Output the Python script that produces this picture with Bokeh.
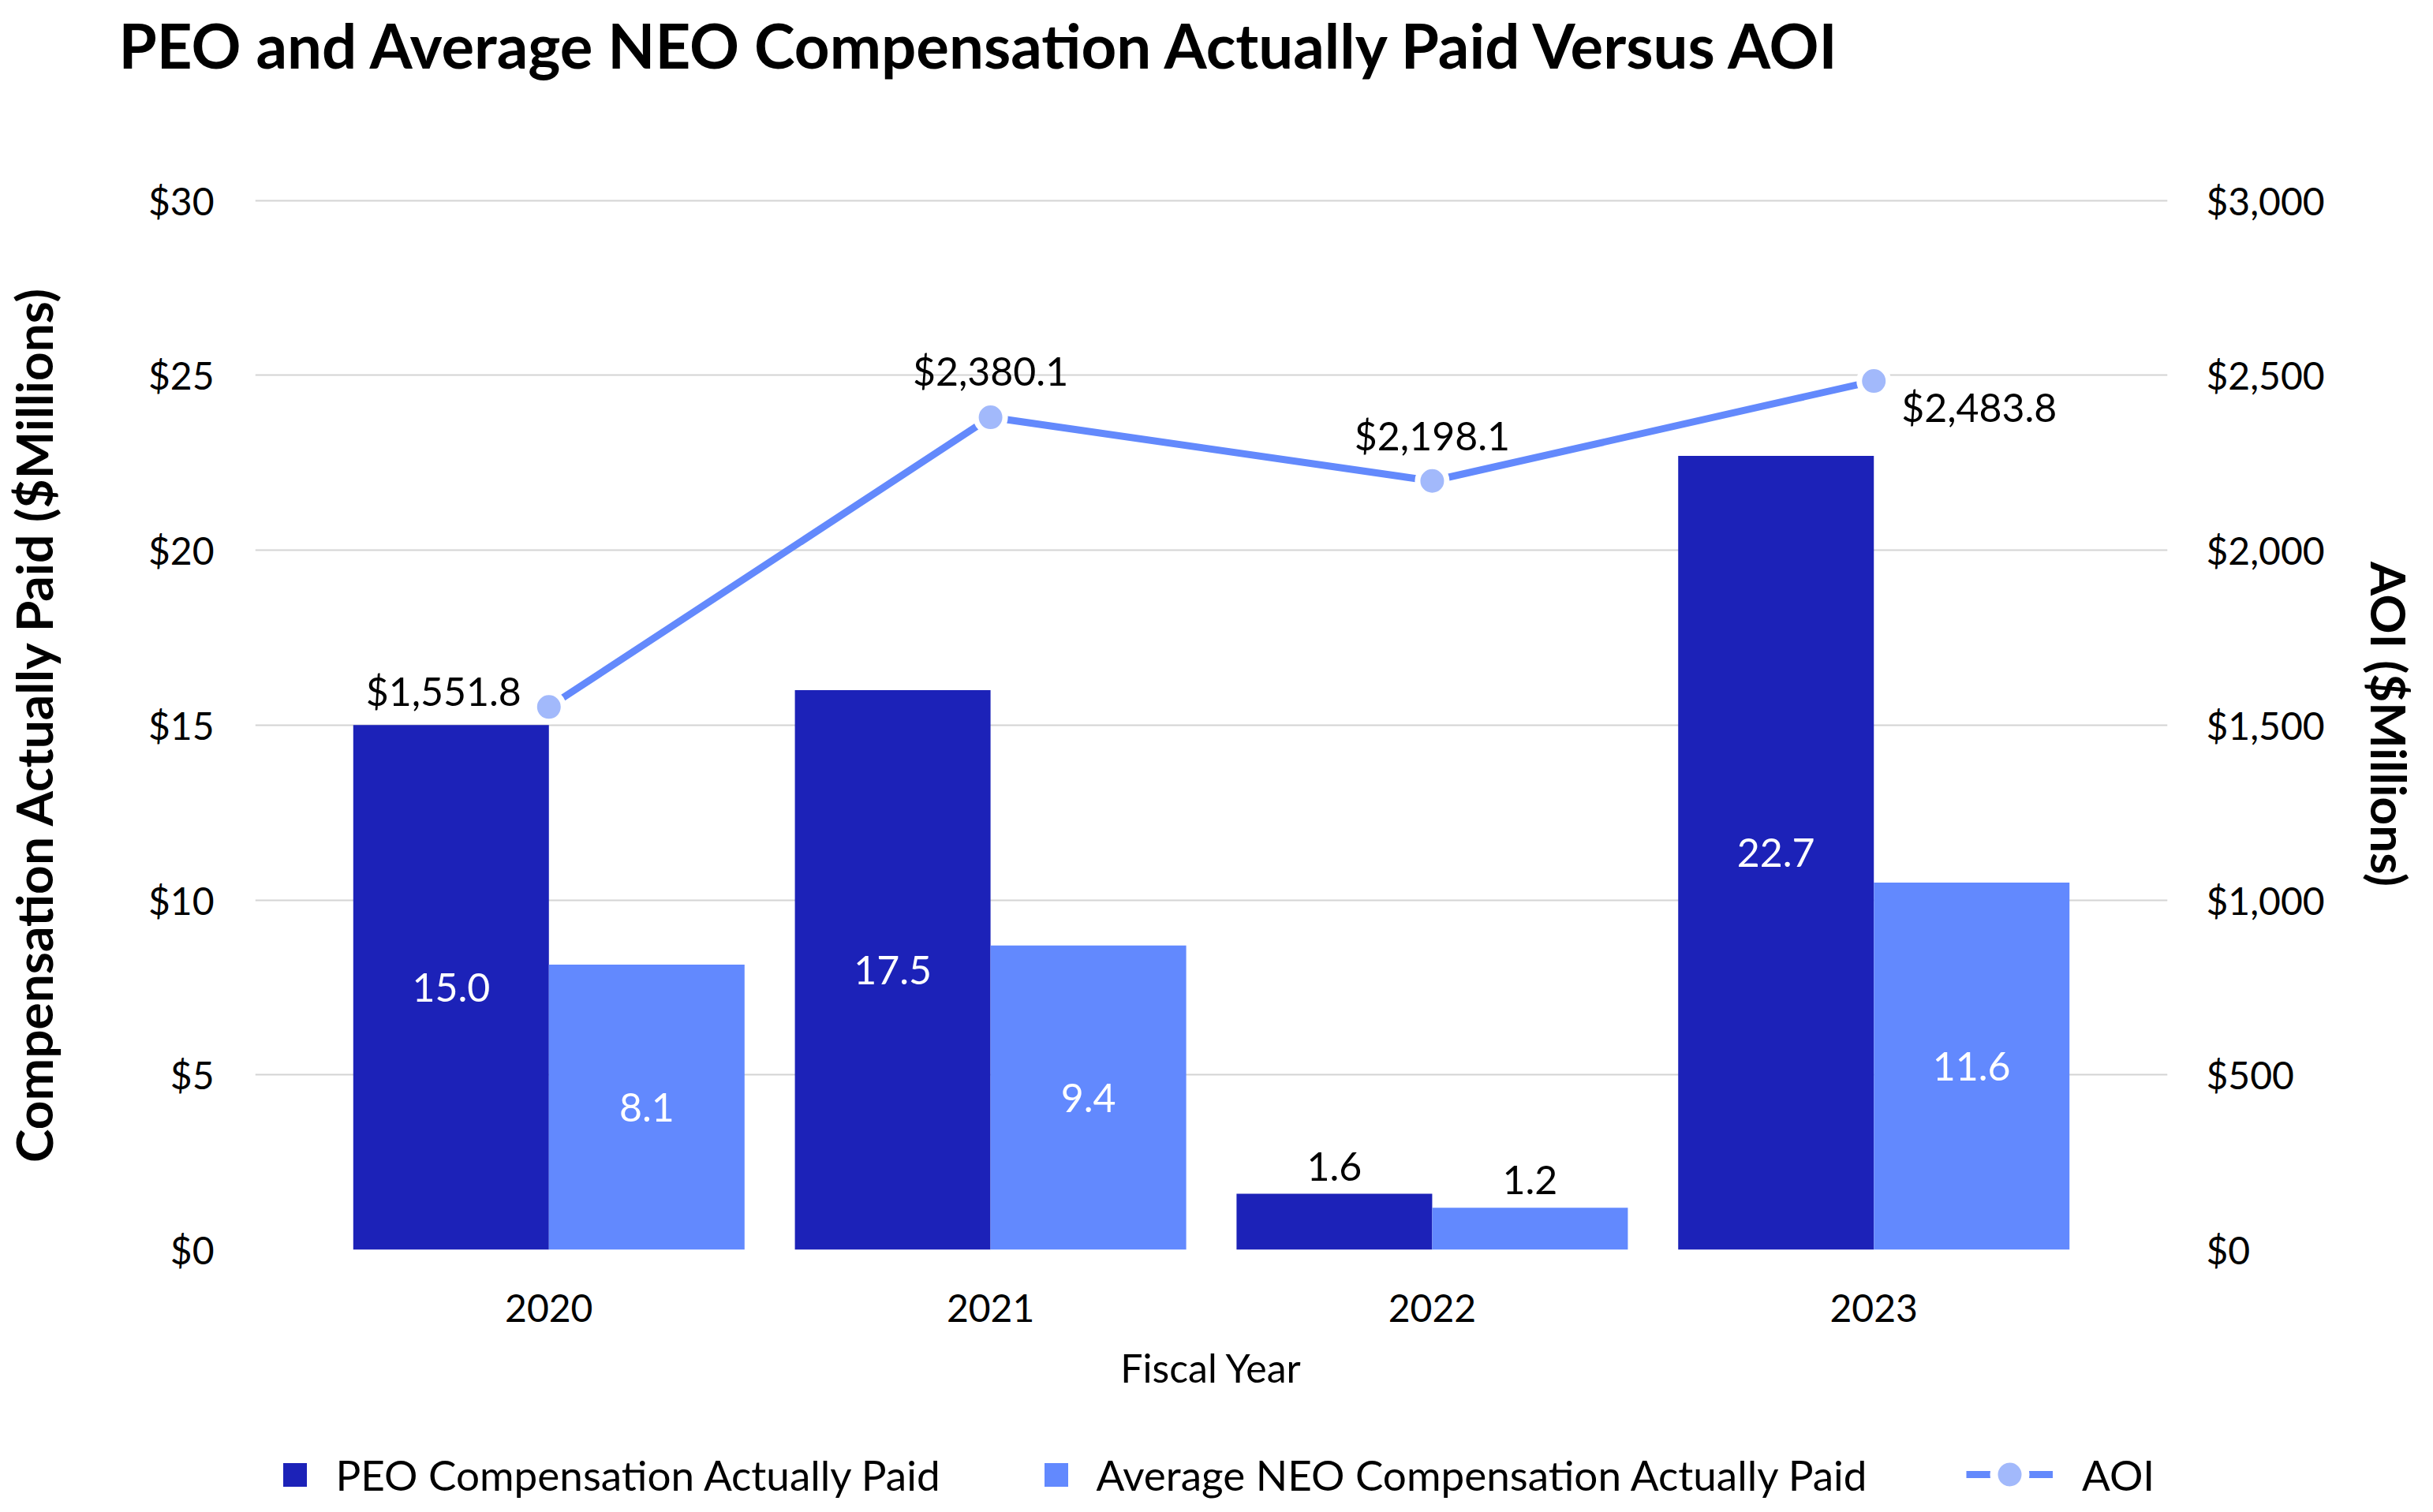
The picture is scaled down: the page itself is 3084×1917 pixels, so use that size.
import numpy as np
from bokeh.plotting import figure
from bokeh.layouts import column
from bokeh.models import (ColumnDataSource, Range1d, LinearAxis, FixedTicker,
                          NumeralTickFormatter, Legend, LegendItem)
from bokeh.core.properties import value
from bokeh.embed import file_html
from bokeh.resources import INLINE

# ---------------- data ----------------
title_text = "PEO and Average NEO Compensation Actually Paid Versus AOI"
years = ["2020", "2021", "2022", "2023"]
peo_bar = [15.0, 16.0, 1.6, 22.7]          # bar heights as drawn
neo_bar = [8.15, 8.7, 1.2, 10.5]
peo_labels = ["15.0", "17.5", "1.6", "22.7"]
neo_labels = ["8.1", "9.4", "1.2", "11.6"]
aoi = [1551.8, 2380.1, 2198.1, 2483.8]
aoi_labels = ["$1,551.8", "$2,380.1", "$2,198.1", "$2,483.8"]
left_ticks = [0, 5, 10, 15, 20, 25, 30]
right_ticks = [0, 500, 1000, 1500, 2000, 2500, 3000]
series_names = ["PEO Compensation Actually Paid",
                "Average NEO Compensation Actually Paid", "AOI"]

# ---------------- styles ----------------
FONT = "Lato"
PEO_COLOR = "#1C22B8"
NEO_COLOR = "#6289FE"
LINE_COLOR = "#6389FC"
MARK_COLOR = "#A2B9FB"
GRID_COLOR = "#D4D4D4"
BAR_W = 0.443
AOI_ALIGN = ["right", "center", "center", "left"]
AOI_DX = [-35, 0, 0, 35]
AOI_DY = [-20, -59, -58, 33]
W = 3068
H_TITLE, H_MAIN, H_LEG = 120, 1680, 101
BORDER_LR = 317


def blank_fig(h, top=0):
    f = figure(width=W, height=h, output_backend="svg", toolbar_location=None,
               x_range=Range1d(0, 1), y_range=Range1d(0, 1),
               x_axis_location=None, y_axis_location=None,
               min_border_left=BORDER_LR, min_border_right=BORDER_LR,
               min_border_top=top, min_border_bottom=0)
    f.grid.visible = False
    f.outline_line_color = None
    f.background_fill_color = "white"
    f.border_fill_color = "white"
    return f


# ---------------- title ----------------
tf = blank_fig(H_TITLE, top=108)
tf.title.text = title_text
tf.title.align = "left"
tf.title.offset = -173
tf.title.standoff = 10
tf.title.text_font = FONT
tf.title.text_font_size = "78px"
tf.title.text_font_style = "bold"
tf.title.text_color = "black"

# ---------------- main chart ----------------
x = np.arange(len(years))

p = figure(width=W, height=H_MAIN, output_backend="svg", toolbar_location=None,
           x_range=Range1d(-0.665, 3.665), y_range=Range1d(0, 30.06),
           min_border_left=BORDER_LR, min_border_right=BORDER_LR,
           min_border_top=131, min_border_bottom=216)
p.outline_line_color = None
p.background_fill_color = "white"
p.border_fill_color = "white"
p.xgrid.visible = False
p.ygrid.ticker = FixedTicker(ticks=left_ticks)
p.ygrid.grid_line_color = GRID_COLOR
p.ygrid.grid_line_width = 2

p.extra_y_ranges = {"aoi": Range1d(0, 3006)}


def style_axis(ax):
    ax.axis_line_color = None
    ax.major_tick_line_color = None
    ax.minor_tick_line_color = None
    ax.major_tick_out = 0
    ax.major_tick_in = 0
    ax.major_label_text_font = FONT
    ax.major_label_text_font_size = "48px"
    ax.major_label_text_color = "black"
    ax.axis_label_text_font = FONT
    ax.axis_label_text_color = "black"


# left axis
ly = p.yaxis[0]
style_axis(ly)
ly.ticker = FixedTicker(ticks=left_ticks)
ly.formatter = NumeralTickFormatter(format="$0")
ly.major_label_standoff = 52
ly.axis_label = "Compensation Actually Paid ($Millions)"
ly.axis_label_text_font_style = "bold"
ly.axis_label_text_font_size = "64px"
ly.axis_label_standoff = 104

# right axis
ry = LinearAxis(y_range_name="aoi")
style_axis(ry)
ry.ticker = FixedTicker(ticks=right_ticks)
ry.formatter = NumeralTickFormatter(format="$0,0")
ry.major_label_standoff = 49
ry.axis_label = "AOI ($Millions)"
ry.axis_label_text_font_style = "bold"
ry.axis_label_text_font_size = "62px"
ry.axis_label_standoff = 42
p.add_layout(ry, "right")

# x axis
xa = p.xaxis[0]
style_axis(xa)
xa.ticker = FixedTicker(ticks=list(x))
xa.major_label_overrides = {int(i): y for i, y in zip(x, years)}
xa.major_label_standoff = 56
xa.axis_label = "Fiscal Year"
xa.axis_label_text_font_size = "50px"
xa.axis_label_text_font_style = "normal"
xa.axis_label_standoff = 25

# bars
src = ColumnDataSource(dict(xp=x - BAR_W / 2, xn=x + BAR_W / 2,
                            peo=peo_bar, neo=neo_bar))
p.vbar(x="xp", top="peo", width=BAR_W, source=src,
       fill_color=PEO_COLOR, line_color=None)
p.vbar(x="xn", top="neo", width=BAR_W, source=src,
       fill_color=NEO_COLOR, line_color=None)

# AOI line
p.line(x, aoi, y_range_name="aoi", line_color=LINE_COLOR, line_width=9)
p.scatter(x, aoi, y_range_name="aoi", size=37, fill_color=MARK_COLOR,
          line_color="white", line_width=7)

# bar labels
xs_all = list(x - BAR_W / 2) + list(x + BAR_W / 2)
hs_all = peo_bar + neo_bar
lb_all = peo_labels + neo_labels
inside = dict(x=[], y=[], t=[])
above = dict(x=[], y=[], t=[])
for xx, hh, tt in zip(xs_all, hs_all, lb_all):
    if hh >= 3:
        inside["x"].append(xx); inside["y"].append(hh / 2); inside["t"].append(tt)
    else:
        above["x"].append(xx); above["y"].append(hh); above["t"].append(tt)
p.text(x="x", y="y", text="t", source=ColumnDataSource(inside),
       text_color="white", text_align="center", text_baseline="middle",
       text_font=value(FONT), text_font_size=value("50px"))
p.text(x="x", y="y", text="t", source=ColumnDataSource(above), y_offset=-35,
       text_color="black", text_align="center", text_baseline="middle",
       text_font=value(FONT), text_font_size=value("50px"))

# AOI labels
for al in ["right", "center", "left"]:
    idx = [i for i, a in enumerate(AOI_ALIGN) if a == al]
    d = dict(x=[x[i] for i in idx], y=[aoi[i] for i in idx],
             t=[aoi_labels[i] for i in idx],
             dx=[AOI_DX[i] for i in idx], dy=[AOI_DY[i] for i in idx])
    p.text(x="x", y="y", text="t", x_offset="dx", y_offset="dy",
           source=ColumnDataSource(d), y_range_name="aoi",
           text_color="black", text_align=al, text_baseline="middle",
           text_font=value(FONT), text_font_size=value("50px"))

# ---------------- legend strip ----------------
lf = blank_fig(H_LEG)
nan = [np.nan]
lg_peo = lf.scatter(nan, nan, marker="square", fill_color=PEO_COLOR, line_color=None)
lg_neo = lf.scatter(nan, nan, marker="square", fill_color=NEO_COLOR, line_color=None)
lg_line = lf.line(nan, nan, line_color=LINE_COLOR, line_width=9)
lg_pt = lf.scatter(nan, nan, fill_color=MARK_COLOR, line_color="white", line_width=10)


def add_legend(fig, label, renderers, loc, gw, gh, standoff):
    lg = Legend(items=[LegendItem(label=label, renderers=renderers)],
                location=loc, orientation="horizontal",
                glyph_width=gw, glyph_height=gh, label_standoff=standoff,
                label_text_font=FONT, label_text_font_size="53px",
                label_text_color="black", border_line_color=None,
                background_fill_alpha=0, padding=0, margin=0, spacing=0)
    fig.add_layout(lg, "center")


add_legend(lf, series_names[0], [lg_peo], (12.5, -5.5), 75, 75, 15)
add_legend(lf, series_names[1], [lg_neo], (977.5, -5.5), 75, 75, 14)
add_legend(lf, series_names[2], [lg_line, lg_pt], (2169, -18), 110, 100, 37)

layout = column(tf, p, lf, spacing=0)
open("out.html", "w").write(file_html(layout, INLINE))
